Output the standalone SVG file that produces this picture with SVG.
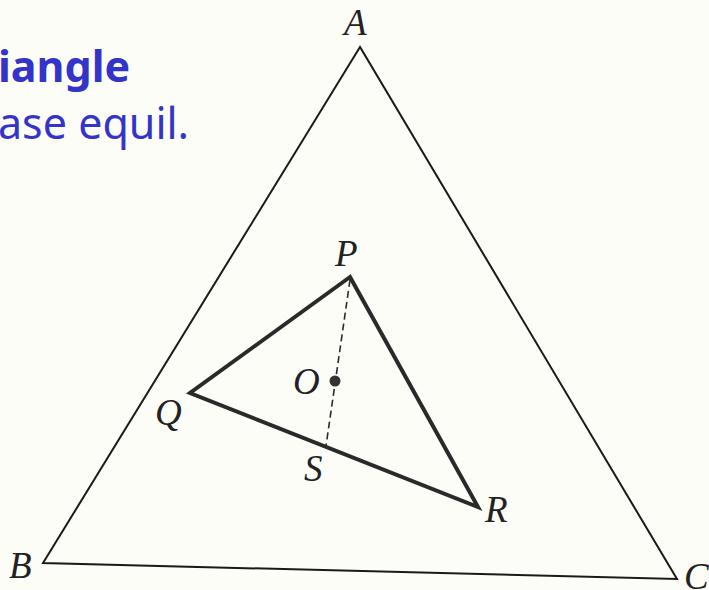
<svg xmlns="http://www.w3.org/2000/svg" width="709" height="590" viewBox="0 0 709 590">
<style>
.lbl{font-family:"Liberation Serif","DejaVu Serif",serif;font-style:italic;font-size:37px;fill:#222}
.blue{font-family:"Noto Sans","Open Sans",sans-serif;fill:#3434c8;font-size:43px}
.thin{fill:none;stroke:#1a1a1a;stroke-width:2;stroke-linejoin:miter}
.thick{fill:none;stroke:#2a2a2a;stroke-width:4;stroke-linejoin:miter}
.dash{fill:none;stroke:#2a2a2a;stroke-width:1.6;stroke-dasharray:7 4}
</style>
<rect width="709" height="590" fill="#fdfdf8"/>
<g id="title">
<text class="blue" x="-2" y="82" font-weight="bold">iangle</text>
<text class="blue" x="-2" y="139">ase equil.</text>
</g>
<g id="outer">
<polygon class="thin" points="360,47 43,563 677,579"/>
</g>
<g id="inner">
<polygon class="thick" points="350,277 190,393 478,507"/>
</g>
<g id="connectors">
<line class="dash" x1="350" y1="280" x2="326" y2="446"/>
</g>
<g id="O"><circle cx="335" cy="381" r="5.5" fill="#333"/></g>
<g id="labels">
<text class="lbl" x="344" y="35">A</text>
<text class="lbl" x="335" y="266">P</text>
<text class="lbl" x="293" y="394">O</text>
<text class="lbl" x="155" y="425">Q</text>
<text class="lbl" x="304" y="481">S</text>
<text class="lbl" x="485" y="522">R</text>
<text class="lbl" x="9" y="578">B</text>
<text class="lbl" x="684" y="589">C</text>
</g>
</svg>
